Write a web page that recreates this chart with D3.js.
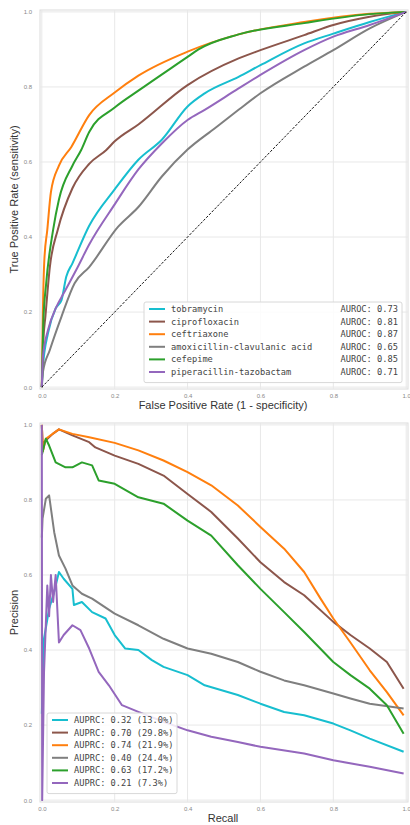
<!DOCTYPE html>
<html>
<head>
<meta charset="utf-8">
<script src="https://cdn.jsdelivr.net/npm/d3@7"></script>
<style>
body { margin: 0; background: #fff; }
svg text { font-family: "Liberation Sans", Arial, sans-serif; }
.legend text { font-family: "DejaVu Sans Mono", monospace; }
</style>
</head>
<body>
<svg id="chart" width="410" height="825"></svg>
<script>
const drugs = ['tobramycin', 'ciprofloxacin', 'ceftriaxone', 'amoxicillin-clavulanic acid', 'cefepime', 'piperacillin-tazobactam'];
const colors = ['#17becf', '#8c564b', '#ff7f0e', '#7f7f7f', '#2ca02c', '#9467bd'];
const aurocs = ['0.73', '0.81', '0.87', '0.65', '0.85', '0.71'];
const auprcs = ['0.32', '0.70', '0.74', '0.40', '0.63', '0.21'];
const prevalence = ['13.0%', '29.8%', '21.9%', '24.4%', '17.2%', '7.3%'];
const ticks = [0, 0.2, 0.4, 0.6, 0.8, 1.0];

// ROC curves: [fpr, tpr]
const rocTobramycin = [[0,0],[0.003,0.054],[0.017,0.144],[0.038,0.21],[0.054,0.232],[0.067,0.294],[0.084,0.33],[0.13,0.43],[0.2,0.527],[0.265,0.606],[0.33,0.66],[0.4,0.748],[0.447,0.783],[0.54,0.827],[0.6,0.858],[0.72,0.916],[0.8,0.942],[0.9,0.973],[1,1]];
const rocCiprofloxacin = [[0,0],[0.004,0.12],[0.01,0.19],[0.022,0.32],[0.044,0.42],[0.084,0.53],[0.13,0.595],[0.177,0.632],[0.2,0.655],[0.265,0.7],[0.4,0.805],[0.54,0.876],[0.6,0.898],[0.72,0.938],[0.8,0.965],[0.9,0.987],[1,1]];
const rocCeftriaxone = [[0,0],[0.003,0.205],[0.007,0.34],[0.015,0.419],[0.025,0.52],[0.047,0.59],[0.081,0.64],[0.13,0.725],[0.2,0.785],[0.265,0.83],[0.4,0.894],[0.54,0.94],[0.72,0.973],[0.9,0.995],[1,1]];
const rocAmoxClav = [[0,0],[0.003,0.04],[0.022,0.099],[0.054,0.188],[0.09,0.277],[0.13,0.32],[0.209,0.427],[0.265,0.48],[0.33,0.562],[0.4,0.633],[0.475,0.69],[0.54,0.739],[0.6,0.783],[0.72,0.854],[0.8,0.898],[0.9,0.956],[1,1]];
const rocCefepime = [[0,0],[0.004,0.17],[0.012,0.277],[0.031,0.419],[0.047,0.5],[0.084,0.59],[0.108,0.632],[0.13,0.68],[0.2,0.745],[0.265,0.79],[0.4,0.88],[0.43,0.9],[0.54,0.94],[0.72,0.97],[0.9,0.994],[1,1]];
const rocPipTazo = [[0,0],[0.003,0.081],[0.017,0.152],[0.04,0.214],[0.06,0.25],[0.099,0.321],[0.13,0.38],[0.2,0.487],[0.265,0.58],[0.33,0.65],[0.4,0.712],[0.447,0.739],[0.54,0.796],[0.6,0.832],[0.72,0.898],[0.8,0.934],[0.9,0.965],[1,1]];

// PR curves: [recall, precision]
const prTobramycin = [[0,0.23],[0.006,0.43],[0.02,0.51],[0.034,0.555],[0.047,0.608],[0.06,0.59],[0.084,0.563],[0.088,0.52],[0.11,0.528],[0.138,0.501],[0.175,0.484],[0.2,0.44],[0.229,0.404],[0.265,0.4],[0.302,0.373],[0.334,0.355],[0.4,0.333],[0.447,0.306],[0.538,0.28],[0.6,0.257],[0.665,0.235],[0.72,0.226],[0.8,0.204],[0.847,0.186],[0.9,0.164],[0.993,0.129]];
const prCiprofloxacin = [[0,1.0],[0.003,0.93],[0.006,0.954],[0.03,0.976],[0.047,0.988],[0.084,0.972],[0.13,0.954],[0.147,0.94],[0.2,0.918],[0.265,0.896],[0.334,0.865],[0.4,0.816],[0.465,0.768],[0.538,0.697],[0.6,0.634],[0.665,0.581],[0.72,0.546],[0.8,0.475],[0.847,0.44],[0.9,0.404],[0.947,0.368],[0.993,0.297]];
const prCeftriaxone = [[0,1.0],[0.003,0.93],[0.011,0.963],[0.047,0.988],[0.084,0.976],[0.13,0.967],[0.2,0.952],[0.265,0.932],[0.334,0.905],[0.4,0.874],[0.465,0.839],[0.538,0.785],[0.6,0.728],[0.665,0.67],[0.72,0.608],[0.765,0.537],[0.8,0.484],[0.847,0.42],[0.9,0.346],[0.947,0.288],[0.993,0.226]];
const prAmoxClav = [[0,0.7],[0.002,0.75],[0.011,0.803],[0.02,0.812],[0.034,0.714],[0.047,0.652],[0.065,0.617],[0.084,0.572],[0.11,0.55],[0.138,0.537],[0.2,0.497],[0.265,0.466],[0.334,0.43],[0.4,0.404],[0.465,0.39],[0.538,0.368],[0.6,0.342],[0.665,0.319],[0.72,0.306],[0.8,0.284],[0.847,0.271],[0.9,0.257],[0.993,0.244]];
const prCefepime = [[0,0.92],[0.011,0.963],[0.02,0.945],[0.038,0.9],[0.065,0.887],[0.084,0.887],[0.11,0.9],[0.138,0.892],[0.156,0.852],[0.2,0.843],[0.265,0.807],[0.334,0.79],[0.4,0.745],[0.465,0.705],[0.538,0.626],[0.6,0.563],[0.665,0.501],[0.72,0.448],[0.8,0.368],[0.847,0.333],[0.9,0.297],[0.947,0.253],[0.993,0.177]];
const prPipTazo = [[0,1.0],[0.001,0.0],[0.006,0.34],[0.015,0.572],[0.02,0.49],[0.025,0.6],[0.031,0.528],[0.038,0.6],[0.047,0.42],[0.06,0.44],[0.084,0.466],[0.106,0.453],[0.13,0.404],[0.156,0.342],[0.184,0.306],[0.22,0.253],[0.265,0.235],[0.334,0.209],[0.4,0.186],[0.465,0.169],[0.538,0.155],[0.6,0.142],[0.72,0.124],[0.8,0.106],[0.9,0.089],[0.993,0.071]];

const rocCurves = [rocTobramycin, rocCiprofloxacin, rocCeftriaxone, rocAmoxClav, rocCefepime, rocPipTazo];
const prCurves = [prTobramycin, prCiprofloxacin, prCeftriaxone, prAmoxClav, prCefepime, prPipTazo];

const svg = d3.select('#chart');

/**
 * draws one axes box with grid, ticks, curves and labels
 */
const drawPanel = (top, bottom, curves, xLabel, yLabel, diagonal) => {
	const x = d3.scaleLinear().domain([-0.005, 1.005]).range([40, 408]);
	const y = d3.scaleLinear().domain([-0.005, 1.005]).range([bottom, top]);
	const g = svg.append('g');

	g.append('rect')
		.attr('x', x.range()[0]).attr('y', top)
		.attr('width', x.range()[1] - x.range()[0]).attr('height', bottom - top)
		.attr('fill', '#fff').attr('stroke', '#dcdcdc').attr('stroke-width', 1);

	// grid
	g.selectAll('.vgrid').data(ticks).enter().append('line')
		.attr('x1', d => x(d)).attr('x2', d => x(d))
		.attr('y1', top).attr('y2', bottom)
		.attr('stroke', '#e8e8e8').attr('stroke-width', 1);
	g.selectAll('.hgrid').data(ticks).enter().append('line')
		.attr('y1', d => y(d)).attr('y2', d => y(d))
		.attr('x1', x.range()[0]).attr('x2', x.range()[1])
		.attr('stroke', '#e8e8e8').attr('stroke-width', 1);

	// tick labels
	const xAxis = g.append('g').attr('transform', `translate(0,${bottom})`)
		.call(d3.axisBottom(x).tickValues(ticks).tickFormat(d3.format('.1f')).tickSize(0).tickPadding(5));
	const yAxis = g.append('g').attr('transform', `translate(${x.range()[0]},0)`)
		.call(d3.axisLeft(y).tickValues(ticks).tickFormat(d3.format('.1f')).tickSize(0).tickPadding(8));
	for(let ax of [xAxis, yAxis]) {
		ax.select('.domain').remove();
		ax.selectAll('text').attr('font-size', '6px').attr('fill', '#888')
			.attr('font-family', '"Liberation Sans", Arial, sans-serif');
	}

	// ROC curves are monotone, PR curves stay as straight segments
	const line = d3.line().x(d => x(d[0])).y(d => y(d[1]));
	if(diagonal) { line.curve(d3.curveMonotoneX); }
	curves.forEach((c, i) => {
		g.append('path').datum(c)
			.attr('d', line)
			.attr('fill', 'none')
			.attr('stroke', colors[i])
			.attr('stroke-width', 2)
			.attr('stroke-linejoin', 'round');
	});
	if(diagonal) {
		g.append('path').datum([[0, 0], [1, 1]])
			.attr('d', d3.line().x(d => x(d[0])).y(d => y(d[1])))
			.attr('fill', 'none')
			.attr('stroke', '#111')
			.attr('stroke-width', 1)
			.attr('stroke-dasharray', '2.5,1.5');
	}

	g.append('text')
		.attr('x', 223).attr('y', bottom + 20)
		.attr('text-anchor', 'middle')
		.attr('font-size', '11px').attr('fill', '#333')
		.text(xLabel);
	g.append('text')
		.attr('transform', `translate(18,${(top + bottom) / 2}) rotate(-90)`)
		.attr('text-anchor', 'middle')
		.attr('font-size', '11px').attr('fill', '#333')
		.text(yLabel);
	return g;
}

const drawLegend = (left, top, width, rows, rightText) => {
	const g = svg.append('g').attr('class', 'legend');
	const rowH = 12.6;
	g.append('rect')
		.attr('x', left).attr('y', top)
		.attr('width', width).attr('height', rows.length * rowH + 5)
		.attr('rx', 2)
		.attr('fill', '#fff').attr('fill-opacity', 0.85)
		.attr('stroke', '#d8d8d8');
	rows.forEach((r, i) => {
		const cy = top + 7 + i * rowH;
		g.append('line')
			.attr('x1', left + 5).attr('x2', left + 21)
			.attr('y1', cy).attr('y2', cy)
			.attr('stroke', colors[i]).attr('stroke-width', 2);
		g.append('text')
			.attr('x', left + 27).attr('y', cy + 3)
			.attr('font-size', '8.7px').attr('fill', '#444')
			.text(r);
		if(rightText) {
			g.append('text')
				.attr('x', left + width - 4).attr('y', cy + 3)
				.attr('text-anchor', 'end')
				.attr('font-size', '8.7px').attr('fill', '#444')
				.text(rightText[i]);
		}
	});
}

drawPanel(10, 389, rocCurves, 'False Positive Rate (1 - specificity)', 'True Positive Rate (sensitivity)', true);
drawLegend(144, 302, 258, drugs, aurocs.map(a => `AUROC: ${a}`));

drawPanel(423, 802, prCurves, 'Recall', 'Precision', false);
drawLegend(47, 713, 130, auprcs.map((a, i) => `AUPRC: ${a} (${prevalence[i]})`), null);
</script>
</body>
</html>
